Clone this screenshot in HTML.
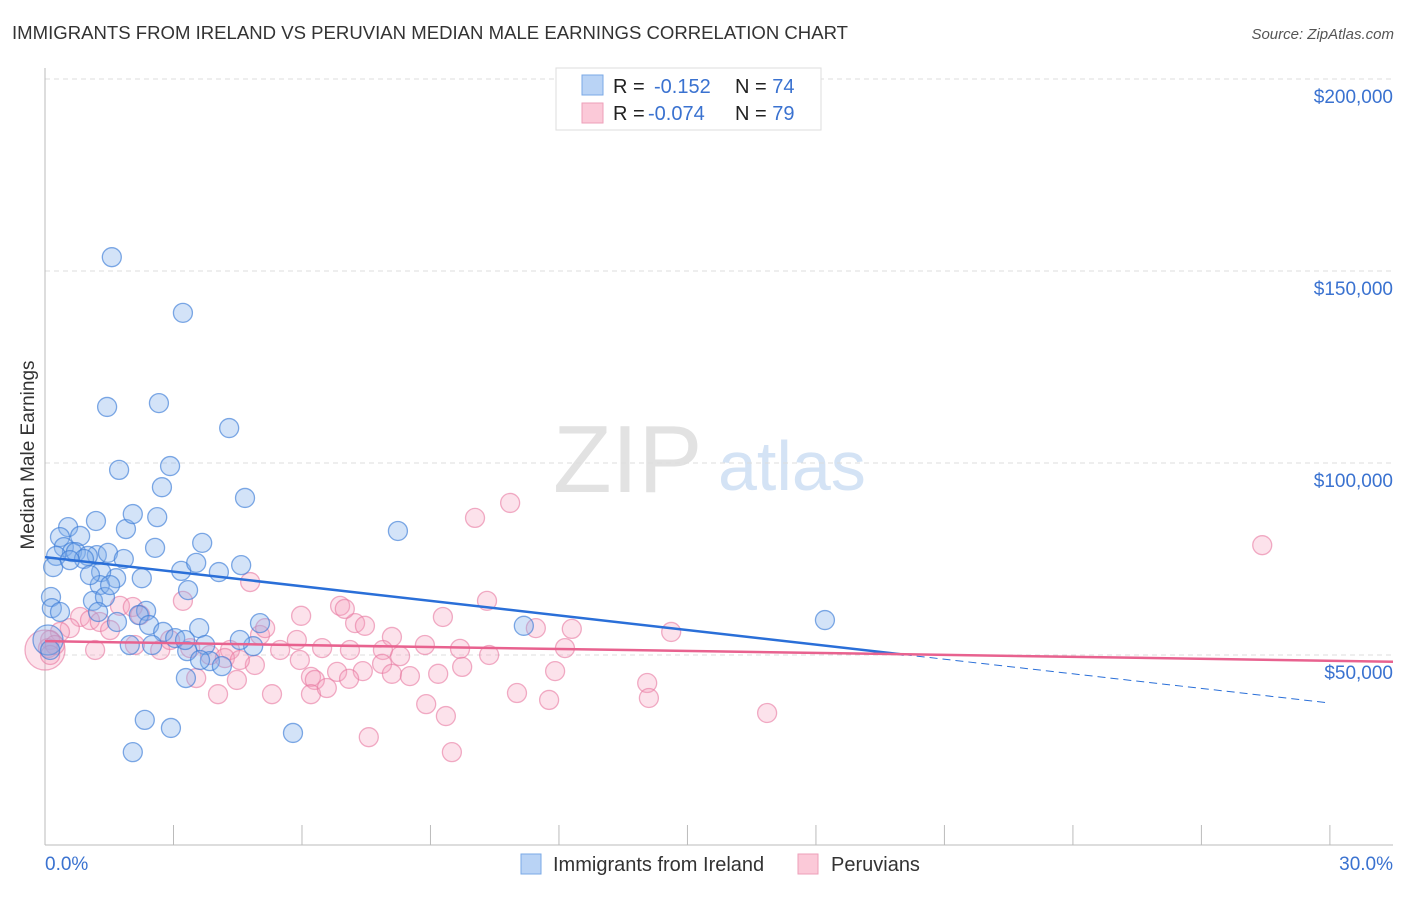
<!DOCTYPE html>
<html><head><meta charset="utf-8">
<style>
body{margin:0;background:#fff;font-family:"Liberation Sans",sans-serif;}
svg text{font-family:"Liberation Sans",sans-serif;}
</style></head>
<body>
<svg id="chart" width="1406" height="892" xmlns="http://www.w3.org/2000/svg">
<text x="12" y="39" font-size="18.5" fill="#333" textLength="836" lengthAdjust="spacingAndGlyphs">IMMIGRANTS FROM IRELAND VS PERUVIAN MEDIAN MALE EARNINGS CORRELATION CHART</text>
<text x="1394" y="39" font-size="15" fill="#555" font-style="italic" text-anchor="end">Source: ZipAtlas.com</text>
<g>
<text x="553" y="492" font-size="96" fill="#e2e2e2" font-family="Liberation Serif, serif">ZIP</text>
<text x="718" y="490" font-size="70" fill="#d4e3f5">atlas</text>
</g>
<g id="grid"></g>
<g id="axes"></g>
<g id="pts"></g>
<g id="trend"></g>
<text transform="translate(34,455) rotate(-90)" font-size="19" fill="#333" text-anchor="middle">Median Male Earnings</text>
<g>
<rect x="556" y="68" width="265" height="62" fill="#fff" stroke="#ddd"/>
<rect x="582" y="75" width="21" height="20" fill="#b9d3f5" stroke="#7aa8e6"/>
<rect x="582" y="103" width="21" height="20" fill="#fbc9d8" stroke="#ee9fb9"/>
<text x="613" y="93" font-size="20" fill="#222">R = <tspan x="654" fill="#3a72d0">-0.152</tspan><tspan x="735" fill="#222">N = </tspan><tspan fill="#3a72d0">74</tspan></text>
<text x="613" y="120" font-size="20" fill="#222">R = <tspan x="648" fill="#3a72d0">-0.074</tspan><tspan x="735" fill="#222">N = </tspan><tspan fill="#3a72d0">79</tspan></text>
</g>
<g>
<rect x="521" y="854" width="20" height="20" fill="#b9d3f5" stroke="#7aa8e6"/>
<text x="553" y="871" font-size="20" fill="#333">Immigrants from Ireland</text>
<rect x="798" y="854" width="20" height="20" fill="#fbc9d8" stroke="#ee9fb9"/>
<text x="831" y="871" font-size="20" fill="#333">Peruvians</text>
</g>
</svg>
<script>
const yTicks=[50000,100000,150000,200000];
const yTickLabels=["$50,000","$100,000","$150,000","$200,000"];
const xTicks=[0,3,6,9,12,15,18,21,24,27,30];
const xLabels=["0.0%","30.0%"];
const blueX=[1.56,3.22,1.45,2.66,4.30,1.73,2.92,2.73,4.67,8.24,1.19,0.54,1.89,2.05,2.62,0.35,0.82,0.44,0.63,1.21,1.47,1.84,2.57,0.72,1.00,0.91,0.26,0.19,1.66,2.26,1.31,1.28,3.34,3.18,3.53,3.67,4.06,4.58,0.14,0.16,1.12,1.40,1.24,1.68,2.36,2.19,2.43,2.76,3.04,3.60,3.74,3.32,3.85,4.13,4.86,5.02,11.18,18.21,3.29,2.33,2.94,2.05,5.79,0.07,0.12,1.52,0.35,1.98,2.50,3.62,3.27,1.05,4.55,0.58];
const blueY=[153.6,139.1,114.6,115.6,109.1,98.2,99.2,93.7,90.9,82.3,84.9,83.3,82.8,86.7,85.9,80.7,81,78.1,76.8,76,76.6,75,77.9,76.8,75.8,75,75.8,72.9,70,70,71.6,68.2,66.9,71.9,74,79.2,71.6,73.4,65.1,62.2,64.1,65.1,61.2,58.6,61.5,60.4,57.8,56,54.4,57,52.6,51,48.4,47.1,52.3,58.3,57.6,59.1,44,33.1,31,24.7,29.7,53.9,51.3,68.2,61.2,52.6,52.6,48.7,53.9,70.8,53.9,74.7];
const pinkX=[28.42,10.86,10.04,10.32,4.79,3.22,6.89,5.98,7.24,7.00,7.47,8.10,9.29,1.75,2.05,0.82,1.05,1.28,0.58,1.52,0.35,0.12,0.07,2.10,2.69,2.92,3.39,3.85,4.32,5.02,5.14,5.49,5.88,6.47,7.89,8.29,9.69,10.37,12.14,14.62,11.46,12.30,7.87,7.42,6.82,6.21,8.10,8.52,9.18,9.74,11.91,4.90,6.30,4.48,3.53,4.04,5.30,6.21,6.58,7.10,8.90,9.36,11.02,11.77,14.06,14.10,16.86,7.56,9.50,0,0.23,4.20,7.12,2.22,1.17,8.87,5.95,0.12,4.55];
const pinkY=[78.6,89.6,85.7,64.1,69,64.1,62.8,60.2,58.3,62,57.6,54.7,59.9,62.8,62.5,59.9,59.1,58.6,57,56.5,56,53.9,51.8,52.6,51.3,53.9,51.8,50,51.3,55.2,57,51.3,53.9,51.8,51.3,49.7,51.6,50,51.8,56,57,56.8,47.7,45.8,45.6,44.3,45.1,44.5,45.1,46.9,45.8,47.4,43.5,43.5,44,39.8,39.8,39.8,41.4,43.8,37.2,34.1,40.1,38.3,42.7,38.8,34.9,28.6,24.7,51.3,52.6,49.2,51.3,60.4,51.3,52.6,48.7,50,48.7];
const blueTrend=[75.5,37.5];
const pinkTrend=[53.6,48.5];
const blueSolidEnd=20.05;

const NS="http://www.w3.org/2000/svg";
const X=p=>45+p*42.83;
const Y=v=>655-(v-50000)*192/50000;
const YK=k=>Y(k*1000);
function mk(tag,attrs,parent){const e=document.createElementNS(NS,tag);for(const k in attrs)e.setAttribute(k,attrs[k]);parent.appendChild(e);return e;}
const grid=document.getElementById('grid'),axes=document.getElementById('axes'),pts=document.getElementById('pts'),tr=document.getElementById('trend');
yTicks.forEach((t,i)=>{
  const l=mk('line',{x1:45,x2:1393,y1:Y(t),y2:Y(t),stroke:'#ddd','stroke-dasharray':'5,4'},grid);
  
  
  const tx=mk('text',{x:1393,y:Y(t)+24,'font-size':19,fill:'#3a72d0','text-anchor':'end'},axes);
  tx.textContent=yTickLabels[i];
  
  
});
const la=mk('line',{x1:45,x2:45,y1:68,y2:845,stroke:'#bbb'},axes);


const ba=mk('line',{x1:45,x2:1393,y1:845,y2:845,stroke:'#bbb'},axes);


xTicks.forEach(t=>{
  const l=mk('line',{x1:X(t),x2:X(t),y1:825,y2:845,stroke:'#bbb'},axes);
  
  
});
const xl0=mk('text',{x:45,y:870,'font-size':19,fill:'#3a72d0'},axes);xl0.textContent=xLabels[0];


const xl1=mk('text',{x:1393,y:870,'font-size':19,fill:'#3a72d0','text-anchor':'end'},axes);xl1.textContent=xLabels[1];



pinkX.forEach((p,i)=>{
  const big=(i===69);
  const c=mk('circle',{cx:X(p),cy:YK(pinkY[i]),r:big?20:9.5,fill:'rgba(245,160,190,0.3)',stroke:'rgba(232,120,160,0.6)','stroke-width':1.3},pts);
  
  
});
blueX.forEach((p,i)=>{
  const big=(i===63);
  const c=mk('circle',{cx:X(p),cy:YK(blueY[i]),r:big?15:9.5,fill:'rgba(130,175,235,0.35)',stroke:'rgba(60,125,215,0.65)','stroke-width':1.3},pts);
  
  
});
const bv=p=>blueTrend[0]+(blueTrend[1]-blueTrend[0])*p/30;
const pv=p=>pinkTrend[0]+(pinkTrend[1]-pinkTrend[0])*p/30;
const b1=mk('line',{x1:X(0),y1:YK(bv(0)),x2:X(blueSolidEnd),y2:YK(bv(blueSolidEnd)),stroke:'#2a6fd8','stroke-width':2.5},tr);


const b2=mk('line',{x1:X(blueSolidEnd),y1:YK(bv(blueSolidEnd)),x2:X(30),y2:YK(bv(30)),stroke:'#2a6fd8','stroke-width':1,'stroke-dasharray':'8,5'},tr);


const p1=mk('line',{x1:X(0),y1:YK(pv(0)),x2:1393,y2:YK(pv((1393-45)/42.83)),stroke:'#e8628f','stroke-width':2.5},tr);


</script>
</body></html>
